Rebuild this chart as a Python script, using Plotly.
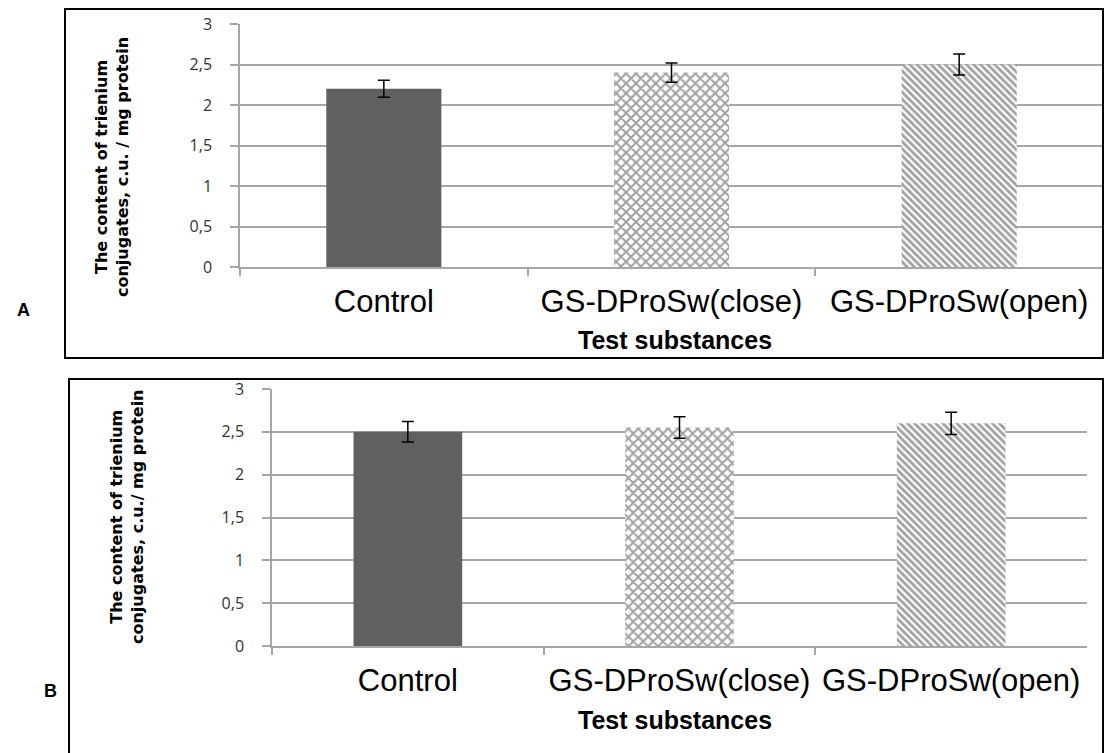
import plotly.graph_objects as go

# ---- data ----
categories = ["Control", "GS-DProSw(close)", "GS-DProSw(open)"]
values_a = [2.2, 2.4, 2.5]
errors_a = [0.105, 0.12, 0.13]
values_b = [2.5, 2.55, 2.6]
errors_b = [0.12, 0.125, 0.13]
y_tickvals = [0, 0.5, 1, 1.5, 2, 2.5, 3]
y_ticktext = ["0", "0,5", "1", "1,5", "2", "2,5", "3"]
y_title_a = "The content of trienium<br>conjugates, c.u. / mg protein"
y_title_b = "The content of trienium<br>conjugates, c.u./ mg protein"
x_title = "Test substances"

W, H = 1105, 753
def px(x):
    return x / W
def py(y):
    return 1 - y / H

bar_colors = ["#606060", "white", "white"]
pattern_shapes = ["", "x", "\\"]

fig = go.Figure()
for vals, errs, xa, ya in [(values_a, errors_a, "x", "y"), (values_b, errors_b, "x2", "y2")]:
    fig.add_trace(go.Bar(
        x=categories, y=vals, xaxis=xa, yaxis=ya, width=0.4,
        marker=dict(color=bar_colors, line=dict(width=0),
                    pattern=dict(shape=pattern_shapes, fgcolor="black", bgcolor="white",
                                 size=[6, 7, 5], solidity=[0.3, 0.5, 0.55])),
        error_y=dict(type="data", array=errs, visible=True, color="black", thickness=1.5, width=6),
        showlegend=False,
    ))

grid = "#a6a6a6"
common_y = dict(range=[0, 3], tickvals=y_tickvals, ticktext=y_ticktext, showgrid=True,
                gridcolor=grid, gridwidth=1.5, showline=True, linecolor=grid, linewidth=1.5,
                ticks="outside", ticklen=8, tickcolor=grid, tickwidth=1.5,
                tickfont=dict(family="Open Sans", size=16, color="#333333"),
                ticklabelstandoff=15, zeroline=False, fixedrange=True, automargin=False)
common_x = dict(type="category", showline=True, linecolor=grid, linewidth=1.5,
                ticks="outside", ticklen=7, tickcolor=grid, tickwidth=1.5, tickson="boundaries",
                tickfont=dict(family="Liberation Sans", size=31, color="black"), tickangle=0,
                showgrid=False, fixedrange=True, automargin=False)

fig.update_layout(
    width=W, height=H, autosize=False,
    margin=dict(l=0, r=0, t=0, b=0, pad=0, autoexpand=False),
    paper_bgcolor="white", plot_bgcolor="white",
    bargap=0.6,
    xaxis=dict(domain=[px(240), px(1103)], anchor="y", ticklabelstandoff=6, **common_x),
    yaxis=dict(domain=[py(267), py(24)], anchor="x", **common_y),
    xaxis2=dict(domain=[px(272), px(1087)], anchor="y2", ticklabelstandoff=6, **common_x),
    yaxis2=dict(domain=[py(646), py(389)], anchor="x2", **common_y),
)

# panel borders
fig.add_shape(type="rect", xref="paper", yref="paper", x0=px(65), x1=px(1103), y0=py(358), y1=py(9),
              line=dict(color="black", width=2), layer="above")
fig.add_shape(type="rect", xref="paper", yref="paper", x0=px(69), x1=px(1103), y0=py(770), y1=py(379),
              line=dict(color="black", width=2), layer="above")

ann = []
ann.append(dict(text=y_title_a, x=px(112), y=py(167), textangle=-90))
ann.append(dict(text=y_title_b, x=px(127), y=py(517), textangle=-90))
for a in ann:
    a.update(xref="paper", yref="paper", showarrow=False, xanchor="center", yanchor="middle",
             font=dict(family="DejaVu Sans", size=16, color="black"))
    a["text"] = "<b>" + a["text"].replace("<br>", "</b><br><b>") + "</b>"
    fig.add_annotation(**a)

fig.add_annotation(text="<b>" + x_title + "</b>", x=px(675), y=py(340), xref="paper", yref="paper",
                   showarrow=False, font=dict(family="Liberation Sans", size=25, color="black"))
fig.add_annotation(text="<b>" + x_title + "</b>", x=px(675), y=py(736), xref="paper", yref="paper",
                   showarrow=False, font=dict(family="Liberation Sans", size=25, color="black"))
fig.add_annotation(text="<b>A</b>", x=px(15), y=py(310), xref="paper", yref="paper",
                   showarrow=False, font=dict(family="Liberation Sans", size=18, color="black"))
fig.add_annotation(text="<b>B</b>", x=px(42), y=py(703), xref="paper", yref="paper",
                   showarrow=False, font=dict(family="Liberation Sans", size=18, color="black"))

fig.write_html("out.html")
